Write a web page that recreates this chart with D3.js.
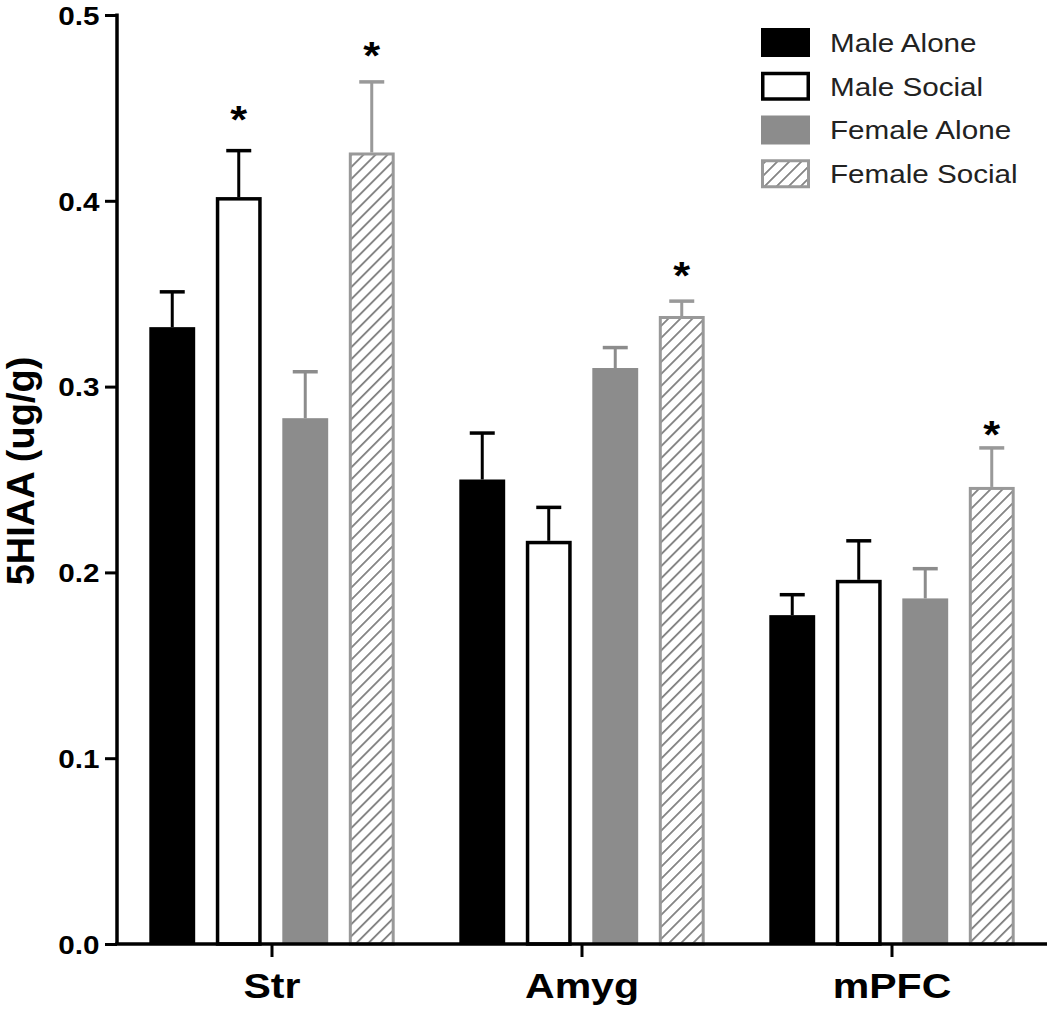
<!DOCTYPE html>
<html>
<head>
<meta charset="utf-8">
<script src="https://cdn.jsdelivr.net/npm/d3@7"></script>
<style>
  html, body { margin: 0; padding: 0; background: #fff; }
  svg { display: block; font-family: "Liberation Sans", Arial, sans-serif; }
</style>
</head>
<body>
<svg id="chart" width="1050" height="1009"></svg>
<script>
// ---- Data ----
const regions = ["Str", "Amyg", "mPFC"];
const groups = ["Male Alone", "Male Social", "Female Alone", "Female Social"];
const maleAlone    = [0.332, 0.250, 0.177];
const maleSocial   = [0.402, 0.217, 0.196];
const femaleAlone  = [0.283, 0.310, 0.186];
const femaleSocial = [0.426, 0.338, 0.246];
const maleAloneErr    = [0.019, 0.025, 0.011];
const maleSocialErr   = [0.025, 0.018, 0.021];
const femaleAloneErr  = [0.025, 0.011, 0.016];
const femaleSocialErr = [0.038, 0.008, 0.021];
// significance stars: [region, group, level of asterisk]
const stars = [["Str", "Male Social", 0.448], ["Str", "Female Social", 0.482],
               ["Amyg", "Female Social", 0.364], ["mPFC", "Female Social", 0.278]];
const yTicks = [0.0, 0.1, 0.2, 0.3, 0.4, 0.5];
const yLabel = "5HIAA (ug/g)";

const seriesValues = [maleAlone, maleSocial, femaleAlone, femaleSocial];
const seriesErrs = [maleAloneErr, maleSocialErr, femaleAloneErr, femaleSocialErr];
const table = [];
regions.forEach((r, i) => groups.forEach((g, j) => {
  table.push({region: r, group: g, value: seriesValues[j][i], err: seriesErrs[j][i]});
}));

// ---- Styles ----
const SX = 1.14; // horizontal text stretch of the original
const styles = {
  "Male Alone":    {fill: "#000", stroke: "none", sw: 0, err: "#000"},
  "Male Social":   {fill: "#fff", stroke: "#000", sw: 3.5, err: "#000"},
  "Female Alone":  {fill: "#8c8c8c", stroke: "none", sw: 0, err: "#8c8c8c"},
  "Female Social": {fill: "url(#hatch)", stroke: "#999", sw: 3, err: "#999"}
};

const svg = d3.select("#chart");
const X0 = 117, X1 = 1047, Y0 = 944, Y1 = 15;

const defs = svg.append("defs");
const pat = defs.append("pattern").attr("id", "hatch")
  .attr("patternUnits", "userSpaceOnUse").attr("width", 8.5).attr("height", 8.5)
  .attr("patternTransform", "rotate(45)");
pat.append("rect").attr("width", 8.5).attr("height", 8.5).attr("fill", "#fff");
pat.append("line").attr("x1", 0).attr("y1", 0).attr("x2", 0).attr("y2", 8.5)
  .attr("stroke", "#7f7f7f").attr("stroke-width", 3.6);

const x = d3.scaleBand().domain(regions).range([X0, X1]).paddingInner(0).paddingOuter(0);
const xi = d3.scaleBand().domain(groups).range([22, x.bandwidth() - 22]).paddingInner(0.31).paddingOuter(0.155);
const y = d3.scaleLinear().domain([0, 0.5]).range([Y0, Y1]);

// bars
const bars = svg.append("g");
table.forEach(d => {
  const s = styles[d.group];
  const bx = x(d.region) + xi(d.group);
  const bw = xi.bandwidth();
  const cx = bx + bw / 2;
  // error bar
  bars.append("line").attr("x1", cx).attr("x2", cx)
    .attr("y1", y(d.value)).attr("y2", y(d.value + d.err))
    .attr("stroke", s.err).attr("stroke-width", 3);
  bars.append("line").attr("x1", cx - 12.5).attr("x2", cx + 12.5)
    .attr("y1", y(d.value + d.err)).attr("y2", y(d.value + d.err))
    .attr("stroke", s.err).attr("stroke-width", 3.5);
  bars.append("rect")
    .attr("x", bx + s.sw / 2).attr("width", bw - s.sw)
    .attr("y", y(d.value) + s.sw / 2).attr("height", y(0) - y(d.value) - s.sw / 2)
    .attr("fill", s.fill).attr("stroke", s.stroke).attr("stroke-width", s.sw);
});

// stars
stars.forEach(([r, g, lv]) => {
  const cx = x(r) + xi(g) + xi.bandwidth() / 2;
  svg.append("text").attr("transform", `translate(${cx},${y(lv) + 21}) scale(${SX},1)`)
    .attr("text-anchor", "middle").attr("font-size", 38).attr("font-weight", "bold")
    .attr("fill", "#000").text("*");
});

// y axis
const yAxis = svg.append("g").attr("transform", `translate(${X0},0)`)
  .call(d3.axisLeft(y).tickValues(yTicks).tickFormat(d3.format(".1f")).tickSize(12).tickSizeOuter(0));
yAxis.select(".domain").attr("stroke", "#000").attr("stroke-width", 3.5)
  .attr("d", `M0,${Y1 - 1.5}V${Y0}`);
yAxis.selectAll(".tick line").attr("stroke", "#000").attr("stroke-width", 3);
yAxis.selectAll(".tick text").attr("x", -17.5 / SX).attr("dy", "0.36em")
  .attr("transform", `scale(${SX},1)`)
  .attr("font-size", 26).attr("font-weight", "bold").attr("fill", "#000")
  .attr("font-family", "Liberation Sans, Arial, sans-serif");

// x axis
const xAxis = svg.append("g").attr("transform", `translate(0,${Y0})`)
  .call(d3.axisBottom(x).tickSize(13).tickSizeOuter(0).tickPadding(0));
xAxis.select(".domain").attr("stroke", "#000").attr("stroke-width", 3.5)
  .attr("d", `M${X0 - 1.75},0H${X1}`);
xAxis.selectAll(".tick line").attr("stroke", "#000").attr("stroke-width", 3);
xAxis.selectAll(".tick text").attr("y", 0).attr("dy", 0)
  .attr("transform", `translate(0,54) scale(${SX},1)`)
  .attr("font-size", 36).attr("font-weight", "bold").attr("fill", "#000")
  .attr("font-family", "Liberation Sans, Arial, sans-serif");

// y label
svg.append("text").attr("transform", `translate(34,${471}) rotate(-90)`)
  .attr("text-anchor", "middle").attr("font-size", 38).attr("font-weight", "bold")
  .attr("fill", "#000").text(yLabel);

// legend
const lg = svg.append("g");
const legY = d3.scaleBand().domain(groups).range([21, 196]);
groups.forEach(g => {
  const s = styles[g];
  const top = legY(g) + 7;
  const sw = s.sw || 0;
  lg.append("rect").attr("x", 761 + sw / 2).attr("y", top + sw / 2)
    .attr("width", 49 - sw).attr("height", 29 - sw)
    .attr("fill", s.fill).attr("stroke", s.stroke).attr("stroke-width", sw);
  lg.append("text").attr("transform", `translate(830,${top + 14.5 + 9.3}) scale(${SX},1)`)
    .attr("font-size", 26).attr("fill", "#222").text(g);
});
</script>
</body>
</html>
